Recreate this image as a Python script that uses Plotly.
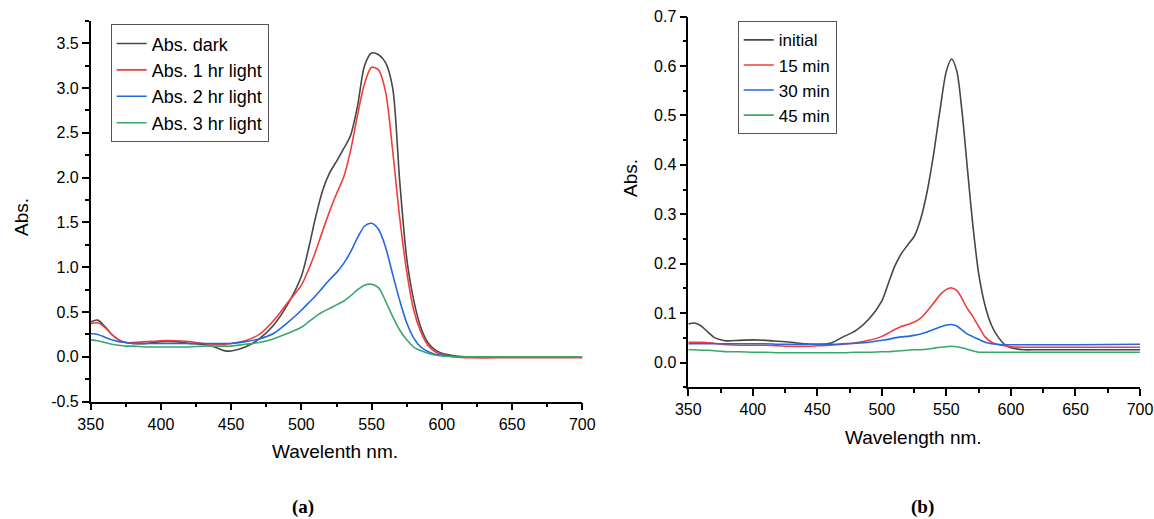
import plotly.graph_objects as go

# ---------------- data: panel (a) ----------------
wl_a = [350, 355, 360, 365, 370, 375, 380, 390, 400, 410, 420, 430, 440, 445, 450,
        460, 470, 480, 490, 500, 505, 510, 515, 520, 525, 530, 535, 540, 545, 550,
        555, 560, 565, 570, 575, 580, 585, 590, 595, 600, 610, 620, 650, 700]
abs_dark = [0.39, 0.41, 0.34, 0.25, 0.19, 0.16, 0.15,
            0.15, 0.17, 0.17, 0.15, 0.14, 0.10, 0.07, 0.065,
            0.11, 0.20, 0.35, 0.58, 0.90,
            1.20, 1.55, 1.85, 2.05, 2.18, 2.32, 2.47, 2.80, 3.25, 3.39,
            3.37, 3.28, 3.00, 1.96, 1.10, 0.63, 0.33, 0.16, 0.08, 0.04,
            0.01, 0.00, 0.00, 0.00]
abs_1hr = [0.37, 0.38, 0.33, 0.25, 0.19, 0.16, 0.16,
           0.17, 0.18, 0.18, 0.17, 0.15, 0.14, 0.14, 0.15,
           0.18, 0.25, 0.40, 0.60, 0.80,
           0.97, 1.17, 1.40, 1.62, 1.82, 2.00, 2.30, 2.70, 3.05, 3.23,
           3.20, 2.95, 2.30, 1.55, 0.95, 0.52, 0.28, 0.13, 0.06, 0.03,
           0.00, -0.01, -0.01, -0.01]
abs_2hr = [0.26, 0.25, 0.22, 0.19, 0.17, 0.16, 0.15,
           0.15, 0.15, 0.15, 0.15, 0.15, 0.15, 0.15, 0.15,
           0.17, 0.20, 0.26, 0.38, 0.52,
           0.60, 0.68, 0.77, 0.86, 0.94, 1.04, 1.17, 1.33, 1.46, 1.49,
           1.42, 1.22, 0.92, 0.63, 0.38, 0.21, 0.11, 0.06, 0.03, 0.02,
           0.00, 0.00, 0.00, 0.00]
abs_3hr = [0.19, 0.18, 0.16, 0.14, 0.13, 0.12, 0.12,
           0.11, 0.11, 0.11, 0.11, 0.12, 0.12, 0.12, 0.12,
           0.14, 0.16, 0.20, 0.26, 0.33,
           0.39, 0.45, 0.50, 0.54, 0.58, 0.62, 0.68, 0.75, 0.80, 0.81,
           0.77, 0.62, 0.45, 0.30, 0.19, 0.11, 0.07, 0.04, 0.02, 0.01,
           0.00, 0.00, 0.00, 0.00]
names_a = ["Abs. dark", "Abs. 1 hr light", "Abs. 2 hr light", "Abs. 3 hr light"]
yticks_a = [-0.5, 0.0, 0.5, 1.0, 1.5, 2.0, 2.5, 3.0, 3.5]
yticklabels_a = ["-0.5", "0.0", "0.5", "1.0", "1.5", "2.0", "2.5", "3.0", "3.5"]

# ---------------- data: panel (b) ----------------
wl_b = [350, 355, 360, 365, 370, 375, 380, 390, 400, 410, 420, 430, 440, 450, 460,
        470, 480, 490, 500, 505, 510, 515, 520, 525, 530, 535, 540, 545, 550, 554,
        558, 562, 566, 570, 575, 580, 585, 590, 595, 600, 610, 620, 650, 700]
initial = [0.078, 0.080, 0.074, 0.062, 0.051, 0.046, 0.044, 0.045, 0.046, 0.045,
           0.043, 0.041, 0.038, 0.037, 0.039, 0.052, 0.065, 0.088, 0.125, 0.160,
           0.195, 0.220, 0.238, 0.255, 0.290, 0.345, 0.420, 0.510, 0.590, 0.614,
           0.590, 0.510, 0.400, 0.290, 0.180, 0.115, 0.075, 0.052, 0.037, 0.030,
           0.026, 0.026, 0.026, 0.026]
min15 = [0.041, 0.041, 0.041, 0.040, 0.039, 0.037, 0.036, 0.035, 0.035, 0.035,
         0.034, 0.033, 0.033, 0.034, 0.035, 0.037, 0.040, 0.045, 0.053, 0.060,
         0.067, 0.073, 0.077, 0.082, 0.090, 0.104, 0.120, 0.137, 0.148, 0.151,
         0.146, 0.130, 0.110, 0.095, 0.073, 0.052, 0.041, 0.036, 0.034, 0.032,
         0.031, 0.031, 0.031, 0.031]
min30 = [0.038, 0.038, 0.038, 0.038, 0.038, 0.038, 0.038, 0.038, 0.038, 0.038,
         0.037, 0.037, 0.037, 0.037, 0.037, 0.038, 0.039, 0.041, 0.045, 0.047,
         0.050, 0.052, 0.053, 0.055, 0.058, 0.062, 0.067, 0.072, 0.076, 0.077,
         0.074, 0.066, 0.058, 0.053, 0.047, 0.041, 0.038, 0.037, 0.036, 0.036,
         0.036, 0.036, 0.036, 0.037]
min45 = [0.026, 0.026, 0.025, 0.025, 0.024, 0.023, 0.022, 0.022, 0.021, 0.021,
         0.020, 0.020, 0.020, 0.020, 0.020, 0.020, 0.021, 0.021, 0.022, 0.022,
         0.023, 0.024, 0.025, 0.026, 0.026, 0.027, 0.029, 0.031, 0.032, 0.033,
         0.032, 0.030, 0.027, 0.024, 0.021, 0.021, 0.021, 0.021, 0.021, 0.021,
         0.021, 0.021, 0.021, 0.021]
names_b = ["initial", "15 min", "30 min", "45 min"]

colors = ["#474747", "#f23c3c", "#2468e0", "#3aa76d"]

# the page's body margin is removed by a post-script, so the figure fills the window
W, H = 1154, 519
FONT = "Liberation Sans, Arial, sans-serif"

fig = go.Figure()
for name, ys, c in zip(names_a, [abs_dark, abs_1hr, abs_2hr, abs_3hr], colors):
    fig.add_trace(go.Scatter(x=wl_a, y=ys, name=name, mode="lines",
                             line=dict(color=c, width=1.6, shape="spline", smoothing=0.8),
                             xaxis="x", yaxis="y", legend="legend"))
for name, ys, c in zip(names_b, [initial, min15, min30, min45], colors):
    fig.add_trace(go.Scatter(x=wl_b, y=ys, name=name, mode="lines",
                             line=dict(color=c, width=1.6, shape="spline", smoothing=0.8),
                             xaxis="x2", yaxis="y2", legend="legend2"))

axis_common = dict(showline=True, linecolor="black", linewidth=1.5, mirror=False,
                   showgrid=False, zeroline=False, ticks="outside", ticklen=7,
                   tickwidth=1.5, tickcolor="black", automargin=False,
                   tickfont=dict(family=FONT, size=16, color="black"))
minor_common = dict(ticklen=4, tickwidth=1.5, tickcolor="black", ticks="outside", showgrid=False)


def px_x(x):
    return x / W


def px_y(y):
    return 1 - y / H


fig.update_layout(
    template="none",
    width=W, height=H, margin=dict(l=0, r=0, t=0, b=0, autoexpand=False),
    paper_bgcolor="white", plot_bgcolor="white",
    xaxis=dict(domain=[px_x(90.7), px_x(582.3)], range=[350, 700], dtick=50, tick0=350,
               anchor="y", minor=dict(dtick=25, **minor_common), **axis_common),
    yaxis=dict(domain=[px_y(401.7), px_y(20.7)], range=[-0.5, 3.75],
               tickmode="array", tickvals=yticks_a, ticktext=yticklabels_a, anchor="x",
               minor=dict(dtick=0.25, tick0=0, **minor_common), **axis_common),
    xaxis2=dict(domain=[px_x(688.3), px_x(1140)], range=[350, 700], dtick=50, tick0=350,
                anchor="y2", minor=dict(dtick=25, **minor_common), **axis_common),
    yaxis2=dict(domain=[px_y(387.3), px_y(16.5)], range=[-0.05, 0.7], dtick=0.1, tick0=0,
                tickformat=".1f", anchor="x2",
                minor=dict(dtick=0.05, **minor_common), **axis_common),
    legend=dict(x=px_x(110.7), y=px_y(24.3), xanchor="left", yanchor="top",
                bordercolor="#555", borderwidth=1, bgcolor="white",
                font=dict(family=FONT, size=18, color="black"),
                tracegroupgap=0, itemwidth=30),
    legend2=dict(x=px_x(737.7), y=px_y(21.3), xanchor="left", yanchor="top",
                 bordercolor="#555", borderwidth=1, bgcolor="white",
                 font=dict(family=FONT, size=17, color="black"),
                 tracegroupgap=0, itemwidth=30),
    showlegend=True,
)

ann_font = dict(family=FONT, size=19, color="black")


def label(text, x, y, font, angle=0):
    fig.add_annotation(text=text, x=px_x(x), y=px_y(y), xref="paper", yref="paper",
                       xanchor="center", yanchor="middle", textangle=angle,
                       showarrow=False, font=font)


label("Abs.", 21, 217, ann_font, -90)
label("Wavelenth nm.", 335, 451, ann_font)
label("Abs.", 630, 178, ann_font, -90)
label("Wavelength nm.", 913, 437, ann_font)
lab_font = dict(family="Liberation Serif, Times New Roman, serif", size=19, color="black")
label("<b>(a)</b>", 303, 507, lab_font)
label("<b>(b)</b>", 922, 507, lab_font)

fig.write_html(
    "out.html",
    config={"displayModeBar": False},
    post_script="document.body.style.margin='0';document.body.style.overflow='hidden';",
)
